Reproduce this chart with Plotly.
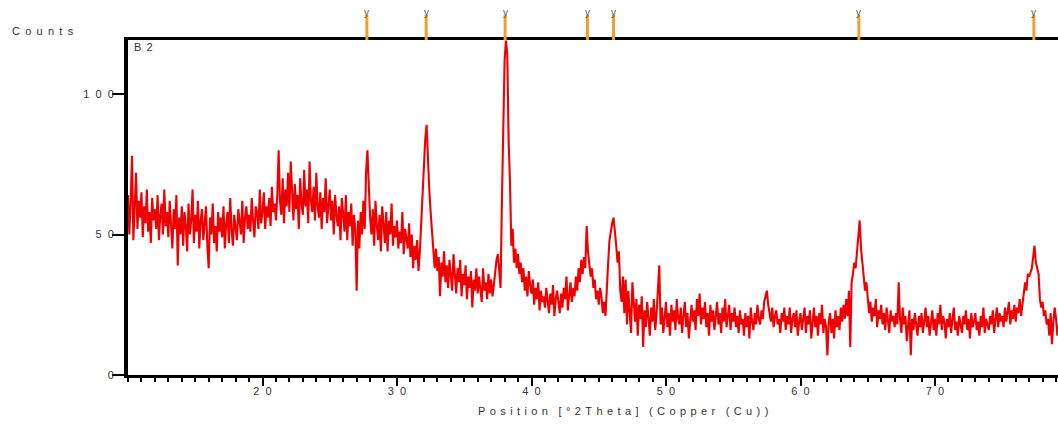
import plotly.graph_objects as go

# ---- data ----
two_theta_start = 10.0
two_theta_step = 0.1
counts = [
    64, 50, 62, 78, 48, 58, 72, 52, 62, 56,   # 10
    65, 49, 60, 54, 66, 51, 58, 47, 63, 55,   # 11
    59, 52, 64, 48, 57, 61, 50, 66, 53, 58,   # 12
    49, 62, 55, 45, 59, 52, 64, 39, 56, 50,   # 13
    60, 46, 58, 53, 44, 61, 50, 55, 66, 47,   # 14
    57, 51, 62, 45, 55, 59, 48, 54, 60, 46,   # 15
    38, 56, 50, 61, 47, 53, 44, 58, 51, 56,   # 16
    49, 60, 45, 54, 58, 47, 63, 52, 46, 57,   # 17
    53, 48, 59, 55, 50, 62, 47, 56, 60, 52,   # 18
    57, 51, 63, 55, 49, 60, 58, 52, 66, 54,   # 19
    58, 65, 52, 60, 56, 63, 53, 67, 58, 61,   # 20
    55, 64, 80, 62, 57, 70, 54, 66, 60, 72,   # 21
    58, 76, 62, 55, 68, 59, 64, 52, 70, 61,   # 22
    57, 73, 60, 66, 54, 76, 62, 58, 67, 55,   # 23
    72, 60, 56, 65, 52, 63, 58, 70, 54, 61,   # 24
    66, 55, 62, 50, 64, 57, 53, 60, 48, 63,   # 25
    56, 51, 64, 48, 58, 53, 61, 46, 57, 52,   # 26
    30, 55, 45, 58, 50, 62, 52, 72, 80, 64,   # 27
    56, 50, 59, 46, 62, 53, 48, 57, 44, 60,   # 28
    52, 47, 58, 44, 55, 50, 61, 46, 53, 49,   # 29
    55, 45, 51, 47, 58, 43, 52, 48, 45, 54,   # 30
    42, 50, 38, 46, 41, 48, 37, 44, 55, 62,   # 31
    72, 84, 89, 76, 66, 58, 50, 44, 38, 45,   # 32
    37, 42, 28, 40, 35, 44, 33, 39, 31, 41,   # 33
    36, 30, 43, 34, 29, 38, 33, 41, 28, 36,   # 34
    32, 39, 27, 35, 31, 37, 24, 34, 30, 38,   # 35
    29, 35, 31, 26, 38, 30, 33, 27, 36, 29,   # 36
    34, 28, 32, 37, 41, 43, 36, 31, 62, 95,   # 37
    112, 119, 114, 83, 69, 46, 52, 40, 45, 38,  # 38
    43, 36, 40, 33, 38, 30, 35, 28, 37, 32,   # 39
    29, 34, 25, 31, 27, 33, 23, 30, 26, 28,   # 40
    24, 31, 27, 22, 29, 25, 32, 21, 27, 30,   # 41
    26, 22, 29, 24, 31, 27, 35, 23, 28, 33,   # 42
    26, 31, 28, 35, 30, 38, 33, 41, 36, 42,   # 43
    38, 53, 44, 40, 35, 38, 31, 34, 27, 30,   # 44
    25, 31, 28, 22, 26, 21, 33, 40, 48, 52,   # 45
    54, 56, 52, 46, 40, 44, 30, 26, 35, 22,   # 46
    34, 18, 30, 22, 15, 33, 24, 19, 27, 14,   # 47
    25, 20, 28, 10, 23, 17, 26, 21, 14, 24,   # 48
    19, 27, 16, 22, 30, 39, 18, 24, 15, 21,   # 49
    26, 17, 22, 14, 25, 19, 23, 16, 27, 20,   # 50
    18, 24, 15, 21, 26, 17, 22, 13, 20, 25,   # 51
    19, 23, 16, 27, 21, 29, 18, 24, 20, 26,   # 52
    17, 22, 14, 25, 19, 23, 16, 21, 26, 18,   # 53
    22, 15, 24, 19, 27, 17, 21, 25, 16, 22,   # 54
    19, 24, 17, 21, 15, 23, 18, 20, 14, 22,   # 55
    17, 21, 13, 24, 19, 16, 22, 18, 25, 20,   # 56
    18, 23, 20, 26, 28, 30, 25, 22, 19, 24,   # 57
    17, 21, 23, 18, 20, 15, 22, 19, 24, 16,   # 58
    21, 18, 24, 15, 20, 22, 17, 23, 14, 19,   # 59
    22, 16, 20, 24, 15, 21, 18, 23, 13, 19,   # 60
    24, 17, 21, 14, 22, 18, 25, 15, 20, 17,   # 61
    7, 19, 22, 15, 20, 13, 23, 17, 21, 16,    # 62
    24, 19, 25, 20, 27, 21, 30, 10, 33, 36,   # 63
    40, 38, 44, 50, 55, 45, 40, 34, 30, 33,   # 64
    28, 22, 26, 19, 24, 21, 27, 17, 23, 20,   # 65
    25, 18, 22, 16, 24, 20, 15, 23, 19, 21,   # 66
    17, 22, 18, 33, 20, 15, 24, 18, 21, 12,   # 67
    19, 23, 7, 20, 16, 22, 18, 14, 21, 17,    # 68
    22, 15, 19, 24, 17, 21, 14, 20, 23, 16,   # 69
    20, 14, 22, 18, 25, 16, 21, 19, 13, 20,   # 70
    17, 22, 15, 20, 24, 16, 19, 14, 21, 18,   # 71
    15, 21, 18, 23, 16, 20, 13, 22, 17, 19,   # 72
    22, 16, 19, 14, 21, 17, 24, 15, 20, 18,   # 73
    16, 21, 18, 23, 15, 20, 24, 17, 22, 19,   # 74
    21, 17, 24, 19, 22, 26, 18, 23, 20, 25,   # 75
    19, 24, 22, 27, 21, 25, 30, 33, 30, 36,   # 76
    35, 37, 38, 42, 46, 40, 38, 36, 27, 24,   # 77
    26, 21, 23, 18, 20, 14, 22, 11, 19, 24,   # 78
    20, 14, 18,                               # 79
]
two_theta = [round(two_theta_start + i * two_theta_step, 2) for i in range(len(counts))]

ref_positions = [27.76, 32.17, 38.04, 44.16, 46.10, 64.34, 77.35]
ref_label = "y"

x_tick_vals = [20, 30, 40, 50, 60, 70]
x_tick_labels = ["20", "30", "40", "50", "60", "70"]
y_tick_vals = [0, 50, 100]
y_tick_labels = ["0", "50", "100"]

sample_name = "B2"
y_title = "Counts"
x_title = "Position [°2Theta] (Copper (Cu))"

# letter-spaced text, like the original instrument software output
GAP = " \u2009"
TITLE_GAP = "\u2009\u2009"
DIGIT_GAP = "\u00a0 "


def spaced(s, gap=GAP):
    words = s.split(" ")
    return ("\u00a0\u00a0" + gap).join(gap.join(list(w)) for w in words)


# ---- layout geometry ----
W, H = 1058, 424
ML, MR, MT, MB = 128, 0, 40, 49
plot_w = W - ML - MR
plot_h = H - MT - MB


def px_to_paper_y(py):
    return (MT + plot_h - py) / plot_h


def px_to_paper_x(px):
    return (px - ML) / plot_w


FONT = "Liberation Sans, Arial, sans-serif"
TXT = "#333333"

fig = go.Figure()
fig.add_trace(go.Scatter(
    x=two_theta, y=counts, mode="lines",
    line=dict(color="#f00000", width=2.1),
    hoverinfo="skip", showlegend=False,
))

shapes = []
annotations = []
for p in ref_positions:
    shapes.append(dict(type="line", xref="x", yref="paper",
                       x0=p, x1=p, y0=1.0, y1=px_to_paper_y(15),
                       line=dict(color="#f0a030", width=3)))
    annotations.append(dict(x=p, xref="x", y=px_to_paper_y(12), yref="paper",
                            text=ref_label, showarrow=False, yanchor="middle",
                            font=dict(family=FONT, size=10, color="#555555")))

annotations.append(dict(x=px_to_paper_x(10), xref="paper", y=px_to_paper_y(31),
                        yref="paper", text=spaced(y_title), showarrow=False, xanchor="left",
                        yanchor="middle", font=dict(family=FONT, size=11, color=TXT)))
annotations.append(dict(x=px_to_paper_x(132), xref="paper", y=px_to_paper_y(47), yref="paper",
                        text=spaced(sample_name), showarrow=False, xanchor="left", yanchor="middle",
                        font=dict(family=FONT, size=11, color=TXT)))
annotations.append(dict(x=px_to_paper_x(623), xref="paper", y=px_to_paper_y(411),
                        yref="paper", text=spaced(x_title, TITLE_GAP), showarrow=False,
                        xanchor="center", yanchor="middle",
                        font=dict(family=FONT, size=11, color=TXT)))

fig.update_layout(
    width=W, height=H,
    margin=dict(l=ML, r=MR, t=MT, b=MB, pad=0),
    paper_bgcolor="white", plot_bgcolor="white",
    shapes=shapes, annotations=annotations,
    font=dict(family=FONT, size=11, color=TXT),
)
fig.update_xaxes(
    range=[10.0, 10.0 + plot_w / 13.45], showgrid=False, zeroline=False,
    showline=True, linecolor="black", linewidth=3, mirror=True,
    tickvals=x_tick_vals, ticktext=[spaced(t, DIGIT_GAP) for t in x_tick_labels],
    ticks="outside", ticklen=8, tickwidth=2, tickcolor="black",
    ticklabelstandoff=-4,
    minor=dict(dtick=1, tick0=0, ticks="outside", ticklen=4, tickwidth=2, tickcolor="black"),
    tickfont=dict(family=FONT, size=11, color=TXT),
)
fig.update_yaxes(
    range=[0, plot_h / 2.81], showgrid=False, zeroline=False,
    showline=True, linecolor="black", linewidth=4,
    tickvals=y_tick_vals, ticktext=[spaced(t, DIGIT_GAP) for t in y_tick_labels],
    ticks="outside", ticklen=12, tickwidth=1.5, tickcolor="black",
    ticklabelstandoff=-4,
    tickfont=dict(family=FONT, size=11, color=TXT),
)

fig.write_html(
    "out.html",
    config={"displayModeBar": False},
    post_script="document.body.style.margin='0';document.body.style.overflow='hidden';",
)
